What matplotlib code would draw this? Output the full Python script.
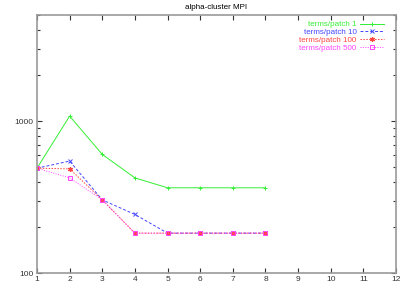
import matplotlib
matplotlib.use("Agg")
import matplotlib.pyplot as plt
from matplotlib.ticker import FixedLocator, NullFormatter

plt.rcParams['font.family'] = ['Liberation Sans', 'DejaVu Sans']

x = [1, 2, 3, 4, 5, 6, 7, 8]
s1 = [490, 1080, 604, 423, 364, 364, 364, 364]
s10 = [490, 546, 303, 243, 183, 183, 183, 183]
s100 = [490, 485, 303, 183, 183, 183, 183, 183]
s500 = [490, 423, 303, 183, 183, 183, 183, 183]
labels = ["terms/patch 1", "terms/patch 10", "terms/patch 100", "terms/patch 500"]
xticks = list(range(1, 13))

fig = plt.figure(figsize=(4.09, 2.86), dpi=100)
ax = fig.add_axes([37/409, 13/286, (396-37)/409, (273-15)/286])

ax.plot(x, s1, color='#33ee33', lw=0.7, ls='-', marker='+', ms=3.5, mew=0.7, label=labels[0])
ax.plot(x, s10, color='#4444ff', lw=0.7, ls=(0, (3, 2)), marker='x', ms=3.5, mew=0.7, label=labels[1])
ax.plot(x, s100, color='#ff4444', lw=0.7, ls=(0, (1.5, 1.5)), marker=(6, 2, 0), ms=3.5, mew=0.9, label=labels[2])
ax.plot(x, s500, color='#ff44ff', lw=0.7, ls=(0, (1, 1.5)), marker='s', ms=3.5, mew=0.7, mfc='none', label=labels[3])

ax.set_yscale('log')
ax.set_xlim(1, 12)
ax.set_ylim(100, 5000)
ax.xaxis.set_major_locator(FixedLocator(xticks))
ax.set_xticklabels([str(t) for t in xticks])
ax.yaxis.set_major_locator(FixedLocator([100, 1000]))
ax.yaxis.set_major_formatter(matplotlib.ticker.FixedFormatter(['100', '1000']))
ax.yaxis.set_minor_locator(FixedLocator([200, 300, 400, 500, 600, 700, 800, 900, 2000, 3000, 4000, 5000]))
ax.yaxis.set_minor_formatter(NullFormatter())
ax.tick_params(which='both', direction='in', top=True, right=True, labelsize=6, colors='#333333', pad=2.5)
ax.tick_params(which='major', length=3.5, width=0.8)
ax.tick_params(which='minor', length=2, width=0.8)
for sp in ax.spines.values():
    sp.set_color('#999999')
    sp.set_linewidth(1.2)

ax.set_title("alpha-cluster MPI", fontsize=5.8, pad=4)

leg = ax.legend(loc='upper right', markerfirst=False, frameon=False, fontsize=5.8,
                handlelength=3.0, labelspacing=0.02, handletextpad=0.4,
                borderaxespad=0.0, bbox_to_anchor=(0.975, 0.99), labelcolor='linecolor')
for t in leg.get_texts():
    t.set_ha('right')

fig.savefig('out.png', dpi=100)
